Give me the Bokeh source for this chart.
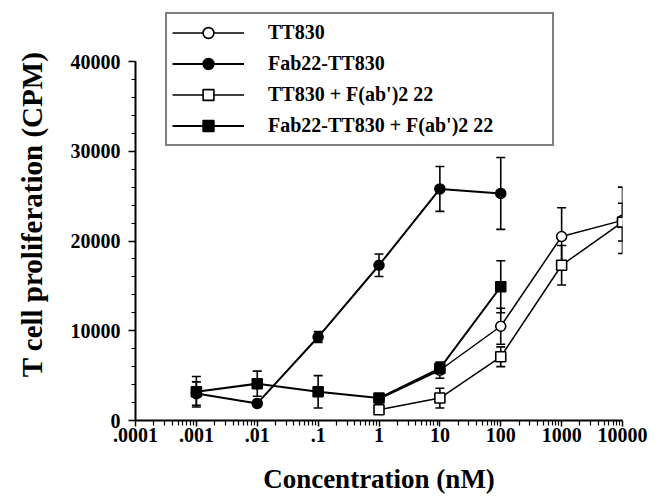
from bokeh.plotting import figure
from bokeh.models import (ColumnDataSource, Whisker, TeeHead, Legend, LegendItem,
                          FixedTicker, SingleIntervalTicker, Range1d)
from bokeh.embed import file_html
from bokeh.resources import INLINE

# ---------------- data ----------------
x_ticks = [0.0001, 0.001, 0.01, 0.1, 1, 10, 100, 1000, 10000]
x_tick_labels = [".0001", ".001", ".01", ".1", "1", "10", "100", "1000", "10000"]
y_ticks = [0, 10000, 20000, 30000, 40000]
y_tick_labels = ["0", "10000", "20000", "30000", "40000"]

tt_x = [1, 10, 100, 1000, 10000]
tt_y = [2400, 5600, 10500, 20500, 22300]
tt_err = [300, 900, 2000, 3200, 3700]

fab_x = [0.001, 0.01, 0.1, 1, 10, 100]
fab_y = [3000, 1900, 9300, 17300, 25800, 25300]
fab_err = [1300, 300, 600, 1250, 2500, 4000]

ttf_x = [1, 10, 100, 1000, 10000]
ttf_y = [1200, 2500, 7100, 17300, 22100]
ttf_err = [400, 1100, 1100, 2200, 2100]

fabf_x = [0.001, 0.01, 0.1, 1, 10, 100]
fabf_y = [3200, 4100, 3200, 2500, 5800, 14900]
fabf_err = [1700, 1400, 1800, 300, 500, 2900]

labels = ["TT830", "Fab22-TT830", "TT830 + F(ab')2 22", "Fab22-TT830 + F(ab')2 22"]

FONT = "Liberation Serif"

p = figure(x_axis_type="log", x_range=Range1d(1e-4, 1e4),
           y_range=Range1d(0, 40000 * 412 / 359),
           frame_width=487, frame_height=412,
           min_border_left=135, min_border_right=30, min_border_top=8,
           min_border_bottom=78,
           output_backend="svg", toolbar_location=None)
p.outline_line_color = None
p.xgrid.visible = False
p.ygrid.visible = False
p.background_fill_color = "white"

# axes
xa = p.xaxis[0]
xa.ticker = FixedTicker(ticks=x_ticks,
                        minor_ticks=[k * t for t in x_ticks[:-1] for k in range(2, 10)])
xa.major_label_overrides = {t: l for t, l in zip(x_ticks, x_tick_labels)}
xa.major_tick_in = 0
xa.major_tick_out = 6
xa.minor_tick_in = 0
xa.minor_tick_out = 5
xa.axis_line_width = 2
xa.major_tick_line_width = 1.5
xa.minor_tick_line_width = 1.2
xa.major_label_text_font = FONT
xa.major_label_text_font_style = "bold"
xa.major_label_text_font_size = "20px"
xa.major_label_text_color = "black"
xa.major_label_standoff = 1
xa.axis_label = "Concentration (nM)"
xa.axis_label_text_font = FONT
xa.axis_label_text_font_style = "bold"
xa.axis_label_text_font_size = "27px"
xa.axis_label_text_color = "black"
xa.axis_label_standoff = 19

ya = p.yaxis[0]
ya.ticker = SingleIntervalTicker(interval=10000, num_minor_ticks=5)
ya.bounds = (0, 40000)
ya.major_label_overrides = {t: l for t, l in zip(y_ticks, y_tick_labels)}
ya.major_tick_in = 0
ya.major_tick_out = 7
ya.minor_tick_in = 0
ya.minor_tick_out = 4
ya.axis_line_width = 2
ya.major_tick_line_width = 1.5
ya.minor_tick_line_width = 1.2
ya.major_label_text_font = FONT
ya.major_label_text_font_style = "bold"
ya.major_label_text_font_size = "20px"
ya.major_label_text_color = "black"
ya.major_label_standoff = 8
ya.axis_label = "T cell proliferation (CPM)"
ya.axis_label_text_font = FONT
ya.axis_label_text_font_style = "bold"
ya.axis_label_text_font_size = "29px"
ya.axis_label_text_color = "black"
ya.axis_label_standoff = 20

series = [
    (tt_x, tt_y, tt_err, "circle", "white", 1.5),
    (ttf_x, ttf_y, ttf_err, "square", "white", 1.5),
    (fab_x, fab_y, fab_err, "circle", "black", 2),
    (fabf_x, fabf_y, fabf_err, "square", "black", 2),
]
order_labels = [labels[0], labels[2], labels[1], labels[3]]

items = {}
for (xs, ys, es, mk, fill, lw), lab in zip(series, order_labels):
    src = ColumnDataSource(dict(x=xs, y=ys,
                                lo=[a - b for a, b in zip(ys, es)],
                                hi=[a + b for a, b in zip(ys, es)]))
    w = Whisker(source=src, base="x", upper="hi", lower="lo",
                line_color="black", line_width=1.6,
                upper_head=TeeHead(size=9, line_width=1.6, line_color="black"),
                lower_head=TeeHead(size=9, line_width=1.6, line_color="black"))
    p.add_layout(w)
    ln = p.line("x", "y", source=src, line_color="black", line_width=lw)
    sc = p.scatter("x", "y", source=src, marker=mk, size=10,
                   fill_color=fill, line_color="black", line_width=1.6)
    items[lab] = [ln, sc]

legend = Legend(items=[LegendItem(label=l, renderers=items[l]) for l in labels],
                location=(30, 274), margin=0, padding=5, spacing=4,
                glyph_width=72, glyph_height=27, label_height=27,
                label_standoff=24, label_width=279,
                label_text_font=FONT, label_text_font_style="bold",
                label_text_font_size="20px", label_text_color="black",
                border_line_color="black", border_line_width=2,
                background_fill_color="white", background_fill_alpha=1)
p.add_layout(legend, "center")

open("out.html", "w").write(file_html(p, INLINE))
